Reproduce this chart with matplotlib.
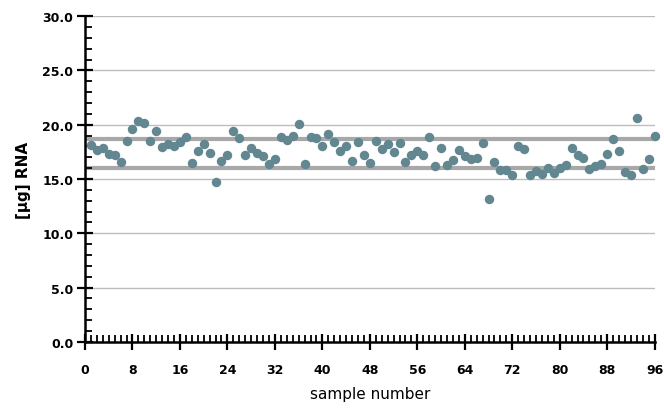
import matplotlib
matplotlib.use("Agg")
import matplotlib.pyplot as plt
from matplotlib.ticker import MultipleLocator, FormatStrFormatter

# RNA yield per sample
sample = list(range(1, 97))
rna_ug = [
    18.13, 17.64, 17.82, 17.33, 17.24, 16.59, 18.50, 19.58, 20.35, 20.20,
    18.50, 19.40, 17.98, 18.19, 18.04, 18.40, 18.84, 16.50, 17.58, 18.19,
    17.39, 14.71, 16.65, 17.24, 19.40, 18.78, 17.18, 17.88, 17.36, 17.14,
    16.37, 16.80, 18.90, 18.56, 18.93, 20.07, 16.37, 18.90, 18.81, 18.00,
    19.18, 18.40, 17.58, 18.04, 16.68, 18.40, 17.24, 16.50, 18.50, 17.79,
    18.22, 17.51, 18.28, 16.59, 17.20, 17.55, 17.20, 18.90, 16.19, 17.82,
    16.28, 16.71, 17.70, 17.11, 16.87, 16.90, 18.28, 13.14, 16.53, 15.82,
    15.82, 15.33, 18.04, 17.79, 15.39, 15.76, 15.45, 16.03, 15.57, 16.03,
    16.25, 17.85, 17.18, 16.93, 15.94, 16.19, 16.40, 17.33, 18.69, 17.61,
    15.63, 15.33, 20.66, 15.91, 16.80, 18.99,
]
# band lines (mean +/- sd)
band = [16.0, 18.7]

fig = plt.figure(figsize=(6.64, 4.10), dpi=100)
ax = fig.add_axes([0.128, 0.164, 0.858, 0.794])

for v in range(5, 31, 5):
    ax.axhline(v, color="#bdbdbd", linewidth=1.0, zorder=1)
for b in band:
    ax.axhline(b, color="#a8a8a8", linewidth=3.0, zorder=1)

ax.plot(sample, rna_ug, "o", markersize=6.8, color="#628790",
        markeredgewidth=0, zorder=3, clip_on=False)

ax.set_xlim(0, 96)
ax.set_ylim(0, 30)
ax.xaxis.set_major_locator(MultipleLocator(8))
ax.xaxis.set_minor_locator(MultipleLocator(1))
ax.yaxis.set_major_locator(MultipleLocator(5))
ax.yaxis.set_minor_locator(MultipleLocator(1))
ax.yaxis.set_major_formatter(FormatStrFormatter("%.1f"))

for s in ("top", "right"):
    ax.spines[s].set_visible(False)
for s in ("left", "bottom"):
    ax.spines[s].set_linewidth(1.8)
    ax.spines[s].set_color("black")

ax.tick_params(which="major", direction="inout", length=11, width=1.6,
               labelsize=9, pad=3)
ax.tick_params(which="minor", direction="in", length=5, width=1.3)
ax.tick_params(axis="x", which="major", pad=10)
for lbl in ax.get_xticklabels() + ax.get_yticklabels():
    lbl.set_fontweight("bold")

ax.set_xlabel("sample number", fontsize=11, fontweight="medium", labelpad=7)
ax.set_ylabel("[µg] RNA", fontsize=11, fontweight="semibold", labelpad=8)

fig.savefig("out.png", dpi=100)
